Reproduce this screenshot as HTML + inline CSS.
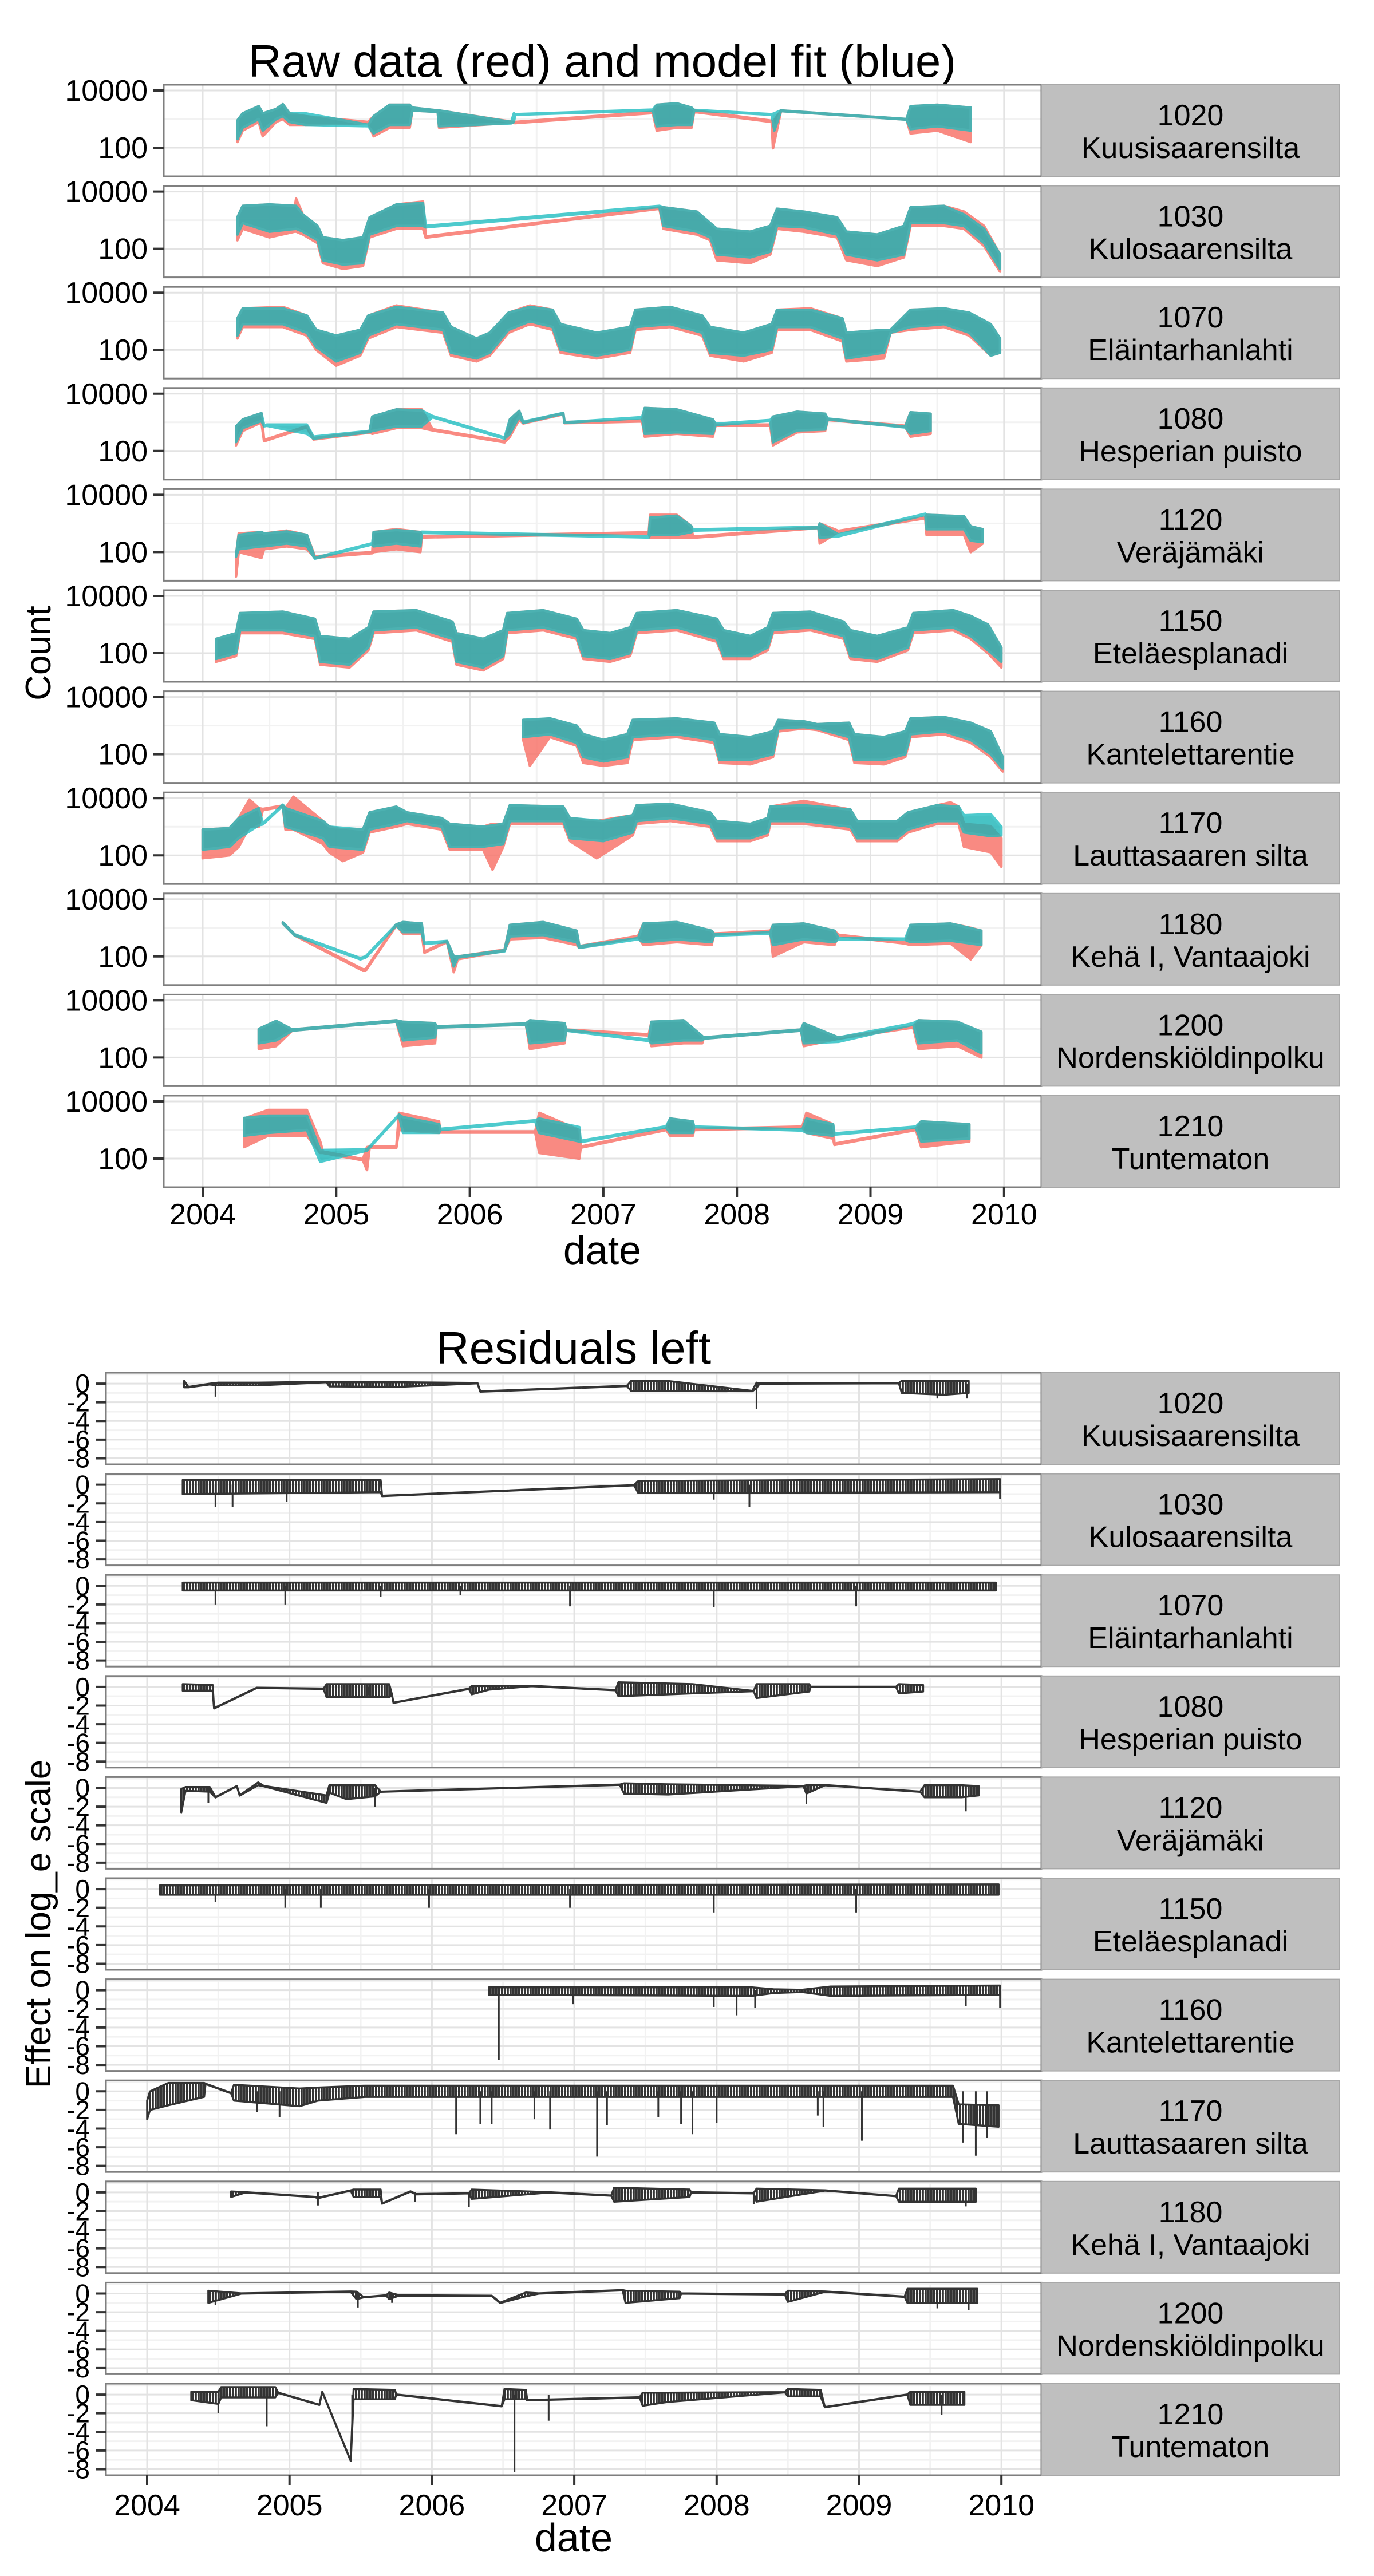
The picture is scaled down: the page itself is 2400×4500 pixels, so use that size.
<!DOCTYPE html>
<html><head><meta charset="utf-8"><title>Raw data and model fit; residuals</title>
<style>
html,body{margin:0;padding:0;background:#fff;}
svg{display:block;font-family:"Liberation Sans",Arial,sans-serif;}
</style></head>
<body>
<svg id="chart" xmlns="http://www.w3.org/2000/svg" width="2400" height="4500" viewBox="0 0 2400 4500">
<defs>
<pattern id="resHatch" patternUnits="userSpaceOnUse" width="5" height="10"><rect x="0" y="0" width="3.8" height="10" fill="#333333"/></pattern>
</defs>
<rect x="0" y="0" width="2400" height="4500" fill="#ffffff"/>
<text x="1052" y="134" font-size="80" text-anchor="middle" fill="#000">Raw data (red) and model fit (blue)</text>
<text x="1002" y="2382" font-size="80" text-anchor="middle" fill="#000">Residuals left</text>
<text transform="translate(88,1141) rotate(-90)" font-size="62" text-anchor="middle" fill="#000">Count</text>
<text transform="translate(88,3361) rotate(-90)" font-size="62" text-anchor="middle" fill="#000">Effect on log_e scale</text>
<text x="1052" y="2208" font-size="70" text-anchor="middle" fill="#000">date</text>
<text x="1002" y="4457" font-size="70" text-anchor="middle" fill="#000">date</text>
<g id="layer"></g>
</svg>
<script>
// ---------- categories / ticks ----------
const stationIds = ['1020','1030','1070','1080','1120','1150','1160','1170','1180','1200','1210'];
const stationNames = ['Kuusisaarensilta','Kulosaarensilta','Eläintarhanlahti','Hesperian puisto','Veräjämäki','Eteläesplanadi','Kantelettarentie','Lauttasaaren silta','Kehä I, Vantaajoki','Nordenskiöldinpolku','Tuntematon'];
const yearTicks = [2004,2005,2006,2007,2008,2009,2010];
const countTickLog = [2,4];
const countTickLabels = ['100','10000'];
const residTicks = [0,-2,-4,-6,-8];
const residTickLabels = ['0','-2','-4','-6','-8'];

// ---------- top chart data: [year, log10 low, log10 high] ----------
const fit1020 = [[2004.26,2.3,2.95],[2004.30,2.7,3.2],[2004.42,3.0,3.45],[2004.45,2.6,3.2],[2004.55,3.0,3.35],[2004.60,3.1,3.52],[2004.65,2.9,3.2],[2004.77,2.8,3.2],[2005.24,2.75,2.8],[2005.28,2.5,3.1],[2005.40,2.8,3.5],[2005.55,2.8,3.5],[2005.57,3.3,3.4],[2005.76,3.25,3.3],[2005.77,2.75,3.3],[2006.31,2.85,2.9],[2006.33,2.9,3.2],[2006.34,3.15,3.17],[2007.37,3.3,3.33],[2007.40,2.75,3.5],[2007.55,2.8,3.55],[2007.66,2.8,3.4],[2007.68,3.3,3.32],[2008.26,3.15,3.17],[2008.28,2.6,3.2],[2008.33,3.28,3.3],[2009.27,2.98,3.0],[2009.30,2.65,3.45],[2009.50,2.75,3.5],[2009.75,2.6,3.4]];
const raw1020 = [[2004.26,2.2,2.95],[2004.30,2.6,3.2],[2004.42,2.9,3.45],[2004.45,2.4,3.2],[2004.55,2.9,3.35],[2004.60,3.0,3.52],[2004.65,2.8,3.2],[2004.77,2.8,3.1],[2005.24,2.86,2.9],[2005.28,2.4,3.1],[2005.40,2.7,3.5],[2005.55,2.7,3.5],[2005.57,3.3,3.4],[2005.76,3.25,3.3],[2005.77,2.7,3.3],[2006.31,2.87,2.91],[2006.34,2.86,2.9],[2007.37,3.21,3.25],[2007.40,2.6,3.5],[2007.55,2.7,3.55],[2007.66,2.7,3.4],[2007.68,3.25,3.3],[2008.26,2.9,2.94],[2008.27,1.98,2.9],[2008.33,3.28,3.3],[2009.27,2.98,3.0],[2009.30,2.5,3.45],[2009.50,2.6,3.5],[2009.75,2.2,3.4]];
const fit1030 = [[2004.26,2.5,3.1],[2004.30,2.9,3.5],[2004.50,2.6,3.55],[2004.70,2.7,3.5],[2004.75,2.6,3.2],[2004.86,2.3,2.8],[2004.90,1.6,2.4],[2005.05,1.45,2.3],[2005.20,1.5,2.4],[2005.25,2.5,3.1],[2005.45,2.8,3.55],[2005.65,2.8,3.6],[2005.67,2.75,2.8],[2007.42,3.46,3.5],[2007.45,2.8,3.45],[2007.70,2.6,3.3],[2007.80,2.4,2.9],[2007.85,1.8,2.7],[2008.10,1.7,2.6],[2008.25,1.9,2.8],[2008.30,2.8,3.4],[2008.50,2.75,3.3],[2008.75,2.5,3.1],[2008.82,1.8,2.6],[2009.05,1.6,2.5],[2009.25,1.8,2.8],[2009.30,2.9,3.45],[2009.55,2.9,3.5],[2009.70,2.8,3.2],[2009.85,2.2,2.7],[2009.97,1.3,1.8]];
const raw1030 = [[2004.26,2.3,3.1],[2004.30,2.7,3.5],[2004.50,2.4,3.55],[2004.69,2.6,3.5],[2004.70,2.6,3.75],[2004.75,2.5,3.2],[2004.86,2.2,2.8],[2004.90,1.5,2.4],[2005.05,1.3,2.3],[2005.20,1.4,2.4],[2005.25,2.4,3.1],[2005.45,2.7,3.55],[2005.65,2.7,3.65],[2005.67,2.39,2.43],[2007.42,3.4,3.44],[2007.45,2.7,3.45],[2007.70,2.5,3.3],[2007.80,2.3,2.9],[2007.85,1.6,2.7],[2008.10,1.5,2.6],[2008.25,1.8,2.8],[2008.30,2.7,3.4],[2008.50,2.6,3.3],[2008.75,2.4,3.1],[2008.82,1.6,2.6],[2009.05,1.4,2.5],[2009.25,1.7,2.8],[2009.30,2.8,3.45],[2009.55,2.8,3.5],[2009.70,2.7,3.3],[2009.85,2.1,2.8],[2009.97,1.2,1.8]];
const fit1070 = [[2004.26,2.5,3.1],[2004.30,2.9,3.45],[2004.60,2.9,3.45],[2004.78,2.6,3.2],[2004.85,2.1,2.7],[2005.00,1.6,2.5],[2005.18,1.9,2.7],[2005.24,2.5,3.2],[2005.45,2.9,3.5],[2005.80,2.7,3.3],[2005.86,1.9,2.8],[2006.05,1.7,2.4],[2006.15,1.9,2.6],[2006.29,2.7,3.3],[2006.45,3.0,3.5],[2006.62,2.8,3.4],[2006.68,2.0,2.9],[2006.95,1.8,2.6],[2007.20,2.0,2.8],[2007.24,2.8,3.4],[2007.50,2.9,3.5],[2007.74,2.6,3.2],[2007.80,1.9,2.8],[2008.05,1.8,2.6],[2008.26,2.0,2.9],[2008.30,2.8,3.4],[2008.55,2.8,3.4],[2008.79,2.4,3.1],[2008.82,1.7,2.6],[2009.10,1.9,2.7],[2009.15,2.6,2.7],[2009.30,2.8,3.4],[2009.55,2.9,3.45],[2009.74,2.6,3.3],[2009.90,1.8,2.9],[2009.97,1.9,2.4]];
const raw1070 = [[2004.26,2.4,3.1],[2004.30,2.8,3.45],[2004.60,2.8,3.5],[2004.78,2.5,3.2],[2004.85,2.0,2.7],[2005.00,1.45,2.5],[2005.18,1.8,2.7],[2005.24,2.4,3.2],[2005.45,2.8,3.55],[2005.80,2.6,3.3],[2005.86,1.8,2.8],[2006.05,1.6,2.4],[2006.15,1.8,2.6],[2006.29,2.6,3.3],[2006.45,2.9,3.55],[2006.62,2.7,3.4],[2006.68,1.9,2.9],[2006.95,1.7,2.6],[2007.20,1.9,2.8],[2007.24,2.7,3.4],[2007.50,2.8,3.5],[2007.74,2.5,3.2],[2007.80,1.8,2.8],[2008.05,1.6,2.6],[2008.26,1.9,2.9],[2008.30,2.7,3.4],[2008.55,2.7,3.45],[2008.79,2.3,3.1],[2008.82,1.6,2.6],[2009.10,1.7,2.7],[2009.15,2.6,2.7],[2009.30,2.7,3.4],[2009.55,2.8,3.45],[2009.74,2.5,3.3],[2009.90,1.8,2.9],[2009.97,1.9,2.4]];
const fit1080 = [[2004.25,2.31,2.86],[2004.30,2.8,3.1],[2004.44,3.05,3.32],[2004.46,2.86,2.9],[2004.48,2.88,2.92],[2004.78,2.6,2.92],[2004.83,2.43,2.5],[2005.25,2.66,2.7],[2005.27,2.7,3.2],[2005.45,2.86,3.45],[2005.64,2.86,3.41],[2005.72,3.18,3.22],[2006.26,2.43,2.47],[2006.30,2.6,3.1],[2006.37,3.2,3.4],[2006.40,2.98,3.02],[2006.70,3.3,3.33],[2006.71,2.98,3.0],[2007.29,3.15,3.18],[2007.31,2.6,3.5],[2007.55,2.65,3.45],[2007.82,2.6,3.1],[2007.84,2.9,2.95],[2008.25,3.05,3.08],[2008.27,2.3,3.2],[2008.45,2.72,3.37],[2008.66,2.75,3.3],[2008.68,3.1,3.13],[2009.26,2.82,2.85],[2009.30,2.6,3.35],[2009.45,2.7,3.3]];
const raw1080 = [[2004.25,2.2,2.86],[2004.30,2.7,3.1],[2004.44,3.0,3.32],[2004.46,2.34,2.38],[2004.78,2.83,2.87],[2004.83,2.4,2.45],[2005.25,2.64,2.68],[2005.27,2.6,3.2],[2005.45,2.8,3.45],[2005.64,2.8,3.45],[2005.72,2.72,2.76],[2006.26,2.3,2.34],[2006.30,2.5,3.1],[2006.37,3.1,3.4],[2006.40,2.96,3.0],[2006.70,3.28,3.32],[2006.71,2.97,3.01],[2007.29,3.03,3.07],[2007.31,2.5,3.5],[2007.55,2.6,3.45],[2007.82,2.5,3.1],[2007.84,2.88,2.92],[2008.25,2.88,2.92],[2008.27,2.2,3.2],[2008.45,2.65,3.37],[2008.66,2.7,3.3],[2008.68,3.08,3.12],[2009.26,2.84,2.88],[2009.30,2.5,3.35],[2009.45,2.6,3.3]];
const fit1120 = [[2004.25,1.84,1.9],[2004.27,2.1,2.6],[2004.44,2.2,2.7],[2004.46,2.2,2.65],[2004.63,2.3,2.72],[2004.78,2.2,2.6],[2004.84,1.77,1.8],[2005.27,2.27,2.31],[2005.28,2.2,2.7],[2005.45,2.3,2.77],[2005.63,2.2,2.7],[2005.64,2.67,2.71],[2007.34,2.51,2.55],[2007.35,2.6,3.2],[2007.55,2.6,3.27],[2007.66,2.7,2.9],[2007.67,2.75,2.79],[2008.61,2.84,2.88],[2008.62,2.5,3.0],[2008.76,2.55,2.62],[2009.41,3.3,3.34],[2009.42,2.8,3.3],[2009.70,2.8,3.25],[2009.75,2.4,2.9],[2009.84,2.35,2.8]];
const raw1120 = [[2004.25,1.15,1.9],[2004.27,2.0,2.65],[2004.44,1.8,2.7],[2004.46,2.1,2.65],[2004.63,2.2,2.75],[2004.78,2.1,2.6],[2004.84,1.8,1.85],[2005.27,1.96,2.0],[2005.28,2.0,2.7],[2005.45,2.1,2.8],[2005.63,2.0,2.7],[2005.64,2.51,2.55],[2007.34,2.65,2.69],[2007.35,2.5,3.3],[2007.55,2.5,3.3],[2007.66,2.5,2.9],[2007.67,2.5,2.54],[2008.61,2.84,2.88],[2008.62,2.3,3.0],[2008.76,2.7,2.74],[2009.41,3.18,3.22],[2009.42,2.6,3.3],[2009.70,2.6,3.25],[2009.75,2.0,2.9],[2009.84,2.3,2.8]];
const fit1150 = [[2004.10,1.8,2.5],[2004.25,2.0,2.7],[2004.28,2.8,3.4],[2004.60,2.8,3.45],[2004.84,2.6,3.2],[2004.88,1.7,2.6],[2005.10,1.6,2.5],[2005.24,2.2,2.9],[2005.28,2.8,3.45],[2005.60,2.9,3.5],[2005.87,2.5,3.1],[2005.90,1.7,2.7],[2006.10,1.5,2.5],[2006.25,1.9,2.8],[2006.28,2.8,3.4],[2006.55,2.9,3.5],[2006.80,2.6,3.2],[2006.85,1.9,2.8],[2007.05,1.8,2.7],[2007.20,2.0,2.9],[2007.25,2.8,3.4],[2007.55,2.9,3.5],[2007.85,2.5,3.2],[2007.90,1.9,2.8],[2008.10,1.9,2.6],[2008.23,2.2,2.9],[2008.27,2.8,3.4],[2008.55,2.9,3.45],[2008.80,2.6,3.1],[2008.85,1.9,2.8],[2009.05,1.8,2.6],[2009.28,2.2,2.9],[2009.32,2.8,3.4],[2009.62,2.9,3.5],[2009.75,2.6,3.3],[2009.88,2.1,3.0],[2009.98,1.7,2.2]];
const raw1150 = [[2004.10,1.7,2.5],[2004.25,1.9,2.7],[2004.28,2.7,3.4],[2004.60,2.7,3.45],[2004.84,2.5,3.2],[2004.88,1.6,2.6],[2005.10,1.5,2.5],[2005.24,2.1,2.9],[2005.28,2.7,3.45],[2005.60,2.8,3.5],[2005.87,2.4,3.1],[2005.90,1.6,2.7],[2006.10,1.4,2.5],[2006.25,1.8,2.8],[2006.28,2.7,3.4],[2006.55,2.8,3.5],[2006.80,2.5,3.2],[2006.85,1.8,2.8],[2007.05,1.7,2.7],[2007.20,1.9,2.9],[2007.25,2.7,3.4],[2007.55,2.8,3.5],[2007.85,2.4,3.2],[2007.90,1.8,2.8],[2008.10,1.8,2.6],[2008.23,2.1,2.9],[2008.27,2.7,3.4],[2008.55,2.8,3.45],[2008.80,2.5,3.1],[2008.85,1.8,2.8],[2009.05,1.7,2.6],[2009.28,2.1,2.9],[2009.32,2.7,3.4],[2009.62,2.8,3.5],[2009.75,2.5,3.3],[2009.88,2.0,3.0],[2009.98,1.5,2.2]];
const fit1160 = [[2006.40,2.6,3.2],[2006.60,2.7,3.25],[2006.80,2.4,3.0],[2006.85,1.9,2.7],[2007.00,1.75,2.5],[2007.18,1.9,2.7],[2007.22,2.6,3.2],[2007.55,2.7,3.25],[2007.83,2.5,3.1],[2007.87,1.8,2.7],[2008.10,1.8,2.6],[2008.27,2.0,2.8],[2008.31,2.9,3.2],[2008.50,2.95,3.15],[2008.60,2.9,3.05],[2008.84,2.6,3.1],[2008.88,1.8,2.7],[2009.10,1.8,2.6],[2009.26,2.0,2.8],[2009.30,2.7,3.25],[2009.55,2.8,3.3],[2009.75,2.5,3.1],[2009.90,2.0,2.8],[2009.99,1.5,1.9]];
const raw1160 = [[2006.40,2.5,3.2],[2006.45,1.6,3.2],[2006.60,2.6,3.25],[2006.80,2.3,3.0],[2006.85,1.7,2.7],[2007.00,1.6,2.5],[2007.18,1.7,2.7],[2007.22,2.5,3.2],[2007.55,2.6,3.25],[2007.83,2.4,3.1],[2007.87,1.7,2.7],[2008.10,1.65,2.6],[2008.27,1.9,2.8],[2008.31,2.8,3.2],[2008.50,2.9,3.15],[2008.60,2.85,3.05],[2008.84,2.5,3.1],[2008.88,1.7,2.7],[2009.10,1.65,2.6],[2009.26,1.9,2.8],[2009.30,2.6,3.25],[2009.55,2.7,3.3],[2009.75,2.4,3.1],[2009.90,1.9,2.8],[2009.99,1.4,1.9]];
const fit1170 = [[2004.00,2.2,2.9],[2004.20,2.3,2.95],[2004.27,2.6,3.3],[2004.42,3.05,3.65],[2004.45,3.08,3.12],[2004.60,3.73,3.77],[2004.62,3.0,3.65],[2004.90,2.6,3.2],[2004.95,2.3,3.0],[2005.20,2.2,2.9],[2005.25,2.9,3.5],[2005.45,3.1,3.7],[2005.53,3.2,3.5],[2005.79,3.0,3.3],[2005.85,2.3,3.1],[2006.10,2.3,3.0],[2006.25,2.4,3.1],[2006.30,3.2,3.75],[2006.70,3.2,3.7],[2006.75,2.6,3.3],[2007.00,2.5,3.2],[2007.22,2.8,3.4],[2007.25,3.2,3.75],[2007.50,3.3,3.8],[2007.80,3.1,3.5],[2007.85,2.6,3.2],[2008.10,2.6,3.1],[2008.23,2.8,3.3],[2008.25,3.2,3.7],[2008.50,3.2,3.75],[2008.85,3.0,3.6],[2008.90,2.6,3.2],[2009.20,2.6,3.2],[2009.28,2.9,3.5],[2009.50,3.2,3.75],[2009.66,3.2,3.7],[2009.70,2.8,3.4],[2009.90,2.67,3.44],[2009.98,2.7,3.0]];
const raw1170 = [[2004.00,1.9,2.9],[2004.20,2.0,2.95],[2004.27,2.3,3.3],[2004.35,3.0,3.95],[2004.42,3.0,3.65],[2004.45,3.58,3.62],[2004.60,3.7,3.74],[2004.62,2.9,3.65],[2004.68,2.9,4.05],[2004.90,2.4,3.2],[2004.95,2.1,3.0],[2005.05,1.8,2.9],[2005.20,2.1,2.9],[2005.25,2.8,3.5],[2005.45,3.0,3.7],[2005.53,3.1,3.5],[2005.79,2.9,3.3],[2005.85,2.2,3.1],[2006.10,2.2,3.0],[2006.17,1.5,3.1],[2006.25,2.3,3.1],[2006.30,3.1,3.75],[2006.70,3.1,3.7],[2006.75,2.5,3.3],[2006.95,1.9,3.2],[2007.22,2.7,3.4],[2007.25,3.1,3.75],[2007.50,3.2,3.8],[2007.80,3.0,3.5],[2007.85,2.5,3.2],[2008.10,2.5,3.1],[2008.23,2.7,3.3],[2008.25,3.1,3.7],[2008.50,3.1,3.9],[2008.85,2.9,3.6],[2008.90,2.5,3.2],[2009.20,2.5,3.2],[2009.28,2.8,3.5],[2009.50,3.1,3.75],[2009.60,3.1,3.85],[2009.66,3.1,3.7],[2009.70,2.3,3.1],[2009.90,2.11,3.02],[2009.98,1.6,2.6]];
const fit1180 = [[2004.60,3.15,3.19],[2004.69,2.73,2.77],[2005.18,1.9,1.94],[2005.22,1.96,2.0],[2005.45,3.08,3.12],[2005.50,2.85,3.2],[2005.64,2.85,3.15],[2005.66,2.44,2.48],[2005.83,2.5,2.54],[2005.88,1.65,2.0],[2005.91,1.96,2.0],[2006.26,2.18,2.22],[2006.30,2.7,3.1],[2006.55,2.75,3.2],[2006.80,2.5,2.9],[2006.82,2.3,2.36],[2007.26,2.6,2.64],[2007.30,2.5,3.15],[2007.55,2.6,3.2],[2007.81,2.5,2.9],[2007.83,2.73,2.77],[2008.25,2.8,2.84],[2008.27,2.4,3.1],[2008.50,2.6,3.15],[2008.73,2.5,2.9],[2008.76,2.6,2.64],[2009.26,2.58,2.62],[2009.30,2.5,3.1],[2009.60,2.55,3.15],[2009.83,2.4,2.9]];
const raw1180 = [[2004.60,3.15,3.19],[2004.69,2.73,2.77],[2005.20,1.5,1.55],[2005.22,1.5,1.55],[2005.45,3.08,3.12],[2005.50,2.8,3.2],[2005.64,2.8,3.15],[2005.66,2.13,2.17],[2005.83,2.5,2.54],[2005.88,1.45,2.0],[2005.91,1.9,2.0],[2006.26,2.2,2.24],[2006.30,2.6,3.1],[2006.55,2.65,3.2],[2006.80,2.4,2.9],[2006.82,2.3,2.36],[2007.26,2.68,2.72],[2007.30,2.4,3.15],[2007.55,2.5,3.2],[2007.81,2.4,2.9],[2007.83,2.76,2.8],[2008.25,2.86,2.9],[2008.27,2.0,3.1],[2008.50,2.5,3.15],[2008.73,2.4,2.9],[2008.76,2.72,2.76],[2009.26,2.45,2.49],[2009.30,2.4,3.1],[2009.60,2.45,3.15],[2009.75,1.9,3.0],[2009.83,2.4,2.9]];
const fit1200 = [[2004.42,2.5,3.0],[2004.55,2.6,3.28],[2004.67,2.94,2.98],[2005.45,3.26,3.3],[2005.50,2.6,3.25],[2005.74,2.7,3.2],[2005.75,3.05,3.09],[2006.42,3.15,3.19],[2006.45,2.5,3.3],[2006.71,2.6,3.2],[2006.72,2.94,2.98],[2007.34,2.58,2.62],[2007.36,2.5,3.25],[2007.60,2.6,3.3],[2007.74,2.6,2.75],[2007.75,2.66,2.7],[2008.48,2.94,2.98],[2008.50,2.5,3.2],[2008.76,2.55,2.7],[2009.32,3.15,3.2],[2009.36,2.5,3.3],[2009.65,2.6,3.25],[2009.83,2.15,2.9]];
const raw1200 = [[2004.42,2.3,3.0],[2004.55,2.4,3.28],[2004.67,2.94,2.98],[2005.45,3.26,3.3],[2005.50,2.4,3.25],[2005.74,2.5,3.2],[2005.75,3.05,3.09],[2006.42,3.15,3.19],[2006.45,2.3,3.3],[2006.71,2.5,3.2],[2006.72,2.94,2.98],[2007.34,2.77,2.81],[2007.36,2.4,3.25],[2007.60,2.5,3.3],[2007.74,2.5,2.75],[2007.75,2.66,2.7],[2008.48,2.94,2.98],[2008.50,2.4,3.2],[2008.76,2.66,2.7],[2009.32,3.05,3.09],[2009.36,2.3,3.3],[2009.65,2.4,3.25],[2009.83,2.0,2.9]];
const fit1210 = [[2004.31,2.8,3.42],[2004.49,2.9,3.5],[2004.78,3.0,3.5],[2004.88,1.89,2.3],[2005.23,2.28,2.32],[2005.47,3.5,3.54],[2005.50,2.9,3.45],[2005.77,2.9,3.2],[2005.78,3.0,3.04],[2006.49,3.3,3.34],[2006.52,2.9,3.4],[2006.82,2.6,3.1],[2006.83,2.58,2.62],[2007.47,3.09,3.13],[2007.50,2.9,3.4],[2007.67,2.9,3.3],[2007.68,3.1,3.12],[2008.49,2.98,3.02],[2008.52,2.9,3.4],[2008.72,2.8,3.2],[2008.73,2.84,2.88],[2009.34,3.08,3.12],[2009.38,2.6,3.3],[2009.74,2.7,3.2]];
const raw1210 = [[2004.31,2.4,3.4],[2004.49,2.8,3.7],[2004.78,2.8,3.7],[2004.88,2.2,2.6],[2004.90,2.2,2.25],[2005.20,1.94,1.98],[2005.23,1.6,2.4],[2005.25,2.38,2.42],[2005.45,2.38,2.42],[2005.47,3.0,3.6],[2005.77,2.9,3.3],[2005.78,2.91,2.95],[2006.49,2.91,2.95],[2006.52,2.2,3.6],[2006.82,2.0,3.0],[2006.83,2.38,2.42],[2007.47,3.0,3.04],[2007.50,2.8,3.4],[2007.67,2.8,3.3],[2007.68,3.0,3.04],[2008.49,3.08,3.12],[2008.52,2.9,3.6],[2008.72,2.7,3.2],[2008.73,2.48,2.52],[2009.34,3.0,3.04],[2009.38,2.4,3.3],[2009.74,2.6,3.2]];

// ---------- residual data: [year, low, high] and spikes [year, value] ----------
const res1020 = [[2004.26,-0.4,0.3],[2004.29,-0.4,-0.35],[2004.44,-0.1,0],[2004.50,-0.2,0.1],[2004.78,-0.2,0.1],[2005.26,0.15,0.2],[2005.28,-0.3,0.15],[2005.77,-0.35,0.15],[2006.32,0.03,0.07],[2006.34,-0.87,-0.83],[2007.37,-0.27,-0.23],[2007.40,-0.8,0.3],[2007.65,-0.8,0.3],[2008.25,-0.82,-0.78],[2008.28,-0.5,0.1],[2008.30,-0.02,0.02],[2009.28,0.03,0.07],[2009.30,-1.0,0.3],[2009.60,-1.2,0.3],[2009.77,-1.0,0.3]];
const spk1020 = [[2004.48,-1.4],[2008.28,-2.7],[2009.55,-1.6],[2009.76,-1.6]];
const res1030 = [[2004.25,-1.0,0.5],[2005.64,-0.8,0.5],[2005.65,-1.22,-1.18],[2007.42,-0.07,-0.03],[2007.45,-0.9,0.4],[2009.99,-0.8,0.6]];
const spk1030 = [[2004.48,-2.4],[2004.60,-2.4],[2004.98,-1.8],[2007.98,-1.6],[2008.23,-2.4],[2009.99,-1.5]];
const res1070 = [[2004.25,-0.5,0.35],[2009.96,-0.5,0.35]];
const spk1070 = [[2004.48,-2.0],[2004.97,-2.0],[2005.64,-1.2],[2006.20,-1.0],[2006.97,-2.2],[2007.98,-2.3],[2008.98,-2.2]];
const res1080 = [[2004.25,-0.4,0.3],[2004.46,-0.4,0.2],[2004.47,-2.32,-2.28],[2004.77,-0.12,-0.08],[2005.24,-0.22,-0.18],[2005.26,-1.1,0.3],[2005.70,-1.1,0.3],[2005.72,-0.9,-0.85],[2005.73,-1.72,-1.68],[2006.26,-0.22,-0.18],[2006.28,-0.8,0.1],[2006.40,-0.3,0.1],[2006.70,0.08,0.12],[2007.29,-0.37,-0.33],[2007.31,-1.0,0.5],[2007.83,-0.7,0.3],[2008.26,-0.47,-0.43],[2008.28,-1.2,0.3],[2008.65,-0.5,0.3],[2008.66,-0.02,0.02],[2009.26,-0.02,0.02],[2009.28,-0.7,0.3],[2009.45,-0.5,0.2]];
const spk1080 = [[2005.55,-0.9],[2007.40,-1.0]];
const res1120 = [[2004.24,-2.6,-0.1],[2004.27,-0.3,0.1],[2004.44,-0.4,0.1],[2004.48,-1.02,-0.98],[2004.63,0.18,0.22],[2004.65,-0.82,-0.78],[2004.78,0.3,0.6],[2004.82,0.18,0.22],[2005.26,-1.6,-0.8],[2005.28,-0.5,0.3],[2005.40,-1.2,0.3],[2005.60,-0.9,0.3],[2005.64,-0.42,-0.38],[2007.32,0.33,0.37],[2007.35,-0.6,0.5],[2007.66,-0.7,0.4],[2008.61,0.18,0.22],[2008.63,-0.6,0.3],[2008.76,0.28,0.32],[2009.43,-0.42,-0.38],[2009.46,-1.0,0.3],[2009.72,-1.0,0.3],[2009.84,-0.8,0.2]];
const spk1120 = [[2004.43,-1.6],[2005.60,-2.0],[2008.63,-1.7],[2009.75,-2.5]];
const res1150 = [[2004.09,-0.6,0.4],[2009.98,-0.6,0.5]];
const spk1150 = [[2004.48,-1.4],[2004.97,-2.0],[2005.22,-2.0],[2005.98,-2.0],[2006.97,-2.0],[2007.98,-2.5],[2008.98,-2.5]];
const res1160 = [[2006.40,-0.5,0.3],[2008.25,-0.6,0.3],[2008.40,-0.3,0.1],[2008.60,-0.2,0.05],[2008.80,-0.6,0.4],[2009.99,-0.5,0.5]];
const spk1160 = [[2006.47,-7.5],[2006.99,-1.5],[2007.98,-1.8],[2008.14,-2.7],[2008.27,-1.9],[2009.75,-1.7],[2009.99,-1.9]];
const res1170 = [[2004.00,-3.0,-1.0],[2004.02,-2.0,0.0],[2004.15,-1.5,0.9],[2004.40,-0.6,0.9],[2004.41,0.78,0.82],[2004.59,-0.22,-0.18],[2004.61,-1.0,0.7],[2005.07,-1.6,0.3],[2005.20,-1.0,0.4],[2005.53,-0.6,0.6],[2009.66,-0.6,0.6],[2009.70,-3.5,-1.4],[2009.98,-3.8,-1.5]];
const spk1170 = [[2004.77,-2.2],[2004.93,-2.8],[2006.17,-4.6],[2006.34,-3.5],[2006.42,-3.5],[2006.72,-3.0],[2006.83,-4.1],[2007.16,-7.0],[2007.23,-3.6],[2007.59,-2.8],[2007.75,-3.5],[2007.83,-4.6],[2008.00,-3.4],[2008.71,-2.6],[2008.75,-3.8],[2009.02,-5.3],[2009.73,-5.5],[2009.82,-6.9],[2009.90,-5.0]];
const res1180 = [[2004.59,-0.5,0.1],[2004.69,-0.02,0.02],[2005.18,-0.52,-0.48],[2005.20,-0.62,-0.58],[2005.43,0.18,0.22],[2005.45,-0.5,0.3],[2005.64,-0.5,0.3],[2005.65,-1.22,-1.18],[2005.85,0.08,0.12],[2005.89,-0.22,-0.18],[2006.26,-0.12,-0.08],[2006.28,-0.7,0.3],[2006.82,-0.02,0.02],[2007.26,-0.37,-0.33],[2007.28,-1.0,0.5],[2007.81,-0.5,0.3],[2007.82,-0.02,0.02],[2008.26,-0.12,-0.08],[2008.28,-1.0,0.4],[2008.76,0.18,0.22],[2009.26,-0.42,-0.38],[2009.28,-1.0,0.4],[2009.82,-1.0,0.4]];
const spk1180 = [[2005.20,-1.4],[2005.88,-1.0],[2006.26,-1.6],[2008.26,-1.3],[2009.75,-1.5]];
const res1200 = [[2004.43,-1.0,0.3],[2004.66,-0.02,0.02],[2005.43,0.18,0.22],[2005.47,-0.6,0.2],[2005.52,-0.42,-0.38],[2005.68,-0.22,-0.18],[2005.70,-0.6,0.1],[2005.77,-0.22,-0.18],[2006.42,-0.27,-0.23],[2006.48,-1.02,-0.98],[2006.66,-0.3,0.1],[2006.75,-0.02,0.02],[2007.34,0.33,0.37],[2007.36,-1.0,0.3],[2007.74,-0.5,0.2],[2007.75,-0.02,0.02],[2008.48,-0.12,-0.08],[2008.50,-0.9,0.3],[2008.76,0.18,0.22],[2009.32,-0.37,-0.33],[2009.34,-1.0,0.5],[2009.83,-1.0,0.5]];
const spk1200 = [[2004.48,-1.2],[2005.48,-1.5],[2005.72,-1.0],[2009.55,-1.6],[2009.77,-1.8]];
const res1210 = [[2004.31,-0.6,0.3],[2004.50,-1.0,0.3],[2004.52,-0.3,0.8],[2004.90,-0.3,0.8],[2004.92,0.18,0.22],[2005.21,-1.12,-1.08],[2005.23,0.28,0.32],[2005.43,-7.12,-7.08],[2005.45,-0.5,0.6],[2005.74,-0.5,0.5],[2005.75,-0.02,0.02],[2006.49,-1.27,-1.23],[2006.51,-0.5,0.6],[2006.66,-0.5,0.5],[2006.67,-0.62,-0.58],[2007.46,-0.32,-0.28],[2007.48,-1.2,0.2],[2007.65,-0.8,0.2],[2008.48,0.23,0.27],[2008.50,-0.2,0.6],[2008.73,-0.2,0.5],[2008.76,-1.37,-1.33],[2009.34,-0.02,0.02],[2009.36,-1.1,0.3],[2009.74,-1.1,0.3]];
const spk1210 = [[2004.50,-2.0],[2004.84,-3.4],[2005.44,-3.2],[2006.58,-8.3],[2006.82,-2.8],[2009.58,-2.2]];

const rawSeries = [raw1020,raw1030,raw1070,raw1080,raw1120,raw1150,raw1160,raw1170,raw1180,raw1200,raw1210];
const fitSeries = [fit1020,fit1030,fit1070,fit1080,fit1120,fit1150,fit1160,fit1170,fit1180,fit1200,fit1210];
const resSeries = [res1020,res1030,res1070,res1080,res1120,res1150,res1160,res1170,res1180,res1200,res1210];
const spkSeries = [spk1020,spk1030,spk1070,spk1080,spk1120,spk1150,spk1160,spk1170,spk1180,spk1200,spk1210];

// ---------- layout & axis functions ----------
const NS = 'http://www.w3.org/2000/svg';
const layer = document.getElementById('layer');
const PITCH = 176.6, PH = 160;
const TOP0 = 148, RES0 = 2398;
const TX0 = 286, TX1 = 1819, RX0 = 185, RX1 = 1819, SX1 = 2340;
function xTop(t){ return 354 + (t - 2004) * 233.3; }
function yTop(i, v){ return TOP0 + i * PITCH + (4.2 - v) / 3.2 * PH; }
function xRes(t){ return 257 + (t - 2004) * 248.7; }
function yRes(i, v){ return RES0 + i * PITCH + (1.17 - v) * 16.3; }

function mk(tag, attrs, parent){
  const e = document.createElementNS(NS, tag);
  for (const k in attrs) e.setAttribute(k, attrs[k]);
  parent.appendChild(e);
  return e;
}
function bandPath(arr, fx, fy){
  let d = '';
  arr.forEach((p, j) => { d += (j ? 'L' : 'M') + fx(p[0]).toFixed(1) + ',' + fy(p[2]).toFixed(1); });
  for (let j = arr.length - 1; j >= 0; j--) { d += 'L' + fx(arr[j][0]).toFixed(1) + ',' + fy(arr[j][1]).toFixed(1); }
  return d + 'Z';
}

function drawPanelFrame(i, x0, top, isTop){
  const bg = mk('rect', {x: x0, y: top, width: TX1 - x0, height: PH, fill: '#ffffff'}, layer);
  
  
  const fx = isTop ? xTop : xRes;
  for (let k = 0; k < yearTicks.length - 1; k++) {
    const x = fx(yearTicks[k] + 0.5);
    const g = mk('line', {x1: x, x2: x, y1: top, y2: top + PH, stroke: '#f2f2f2', 'stroke-width': 3}, layer);
    
    
  }
  const minorVals = isTop ? [3, 1] : [1, -1, -3, -5, -7];
  minorVals.forEach(v => {
    const y = isTop ? yTop(i, v) : yRes(i, v);
    if (y > top && y < top + PH) {
      const g = mk('line', {x1: x0, x2: TX1, y1: y, y2: y, stroke: '#f2f2f2', 'stroke-width': 3}, layer);
      
      
    }
  });
  yearTicks.forEach(yr => {
    const x = fx(yr);
    const g = mk('line', {x1: x, x2: x, y1: top, y2: top + PH, stroke: '#e3e3e3', 'stroke-width': 3}, layer);
    
    
  });
  const majors = isTop ? countTickLog : residTicks;
  majors.forEach(v => {
    const y = isTop ? yTop(i, v) : yRes(i, v);
    const g = mk('line', {x1: x0, x2: TX1, y1: y, y2: y, stroke: '#e3e3e3', 'stroke-width': 3}, layer);
    
    
  });
}
function drawPanelBorderAndStrip(i, x0, top, isTop){
  const b = mk('rect', {x: x0, y: top, width: TX1 - x0, height: PH, fill: 'none', stroke: '#7f7f7f', 'stroke-width': 3}, layer);
  
  
  const s = mk('rect', {x: TX1, y: top, width: SX1 - TX1, height: PH, fill: '#bfbfbf', stroke: '#a8a8a8', 'stroke-width': 2}, layer);
  
  
  const t1 = mk('text', {x: (TX1 + SX1) / 2, y: top + 71, 'font-size': 52, 'text-anchor': 'middle', fill: '#000'}, layer);
  t1.textContent = stationIds[i];
  
  
  const t2 = mk('text', {x: (TX1 + SX1) / 2, y: top + 128, 'font-size': 52, 'text-anchor': 'middle', fill: '#000'}, layer);
  t2.textContent = stationNames[i];
  
  
  const vals = isTop ? countTickLog : residTicks;
  const labs = isTop ? countTickLabels : residTickLabels;
  vals.forEach((v, k) => {
    const y = isTop ? yTop(i, v) : yRes(i, v);
    const tk = mk('line', {x1: x0 - 18, x2: x0, y1: y, y2: y, stroke: '#333', 'stroke-width': 4}, layer);
    
    
    const lb = mk('text', {x: x0 - 28, y: y + (isTop ? 18 : 16), 'font-size': isTop ? 52 : 46, 'text-anchor': 'end', fill: '#000'}, layer);
    lb.textContent = labs[k];
    
    
  });
}

// ---------- top chart ----------
for (let i = 0; i < stationIds.length; i++) {
  const top = TOP0 + i * PITCH;
  drawPanelFrame(i, TX0, top, true);
  const clipId = 'ct' + i;
  const cp = mk('clipPath', {id: clipId}, layer);
  mk('rect', {x: TX0, y: top, width: TX1 - TX0, height: PH}, cp);
  const fy = v => yTop(i, v);
  const gR = mk('g', {'clip-path': 'url(#' + clipId + ')', opacity: 0.85}, layer);
  
  
  const pR = mk('path', {d: bandPath(rawSeries[i], xTop, fy), fill: '#F8766D', stroke: '#F8766D', 'stroke-width': 4.5, 'stroke-linejoin': 'round'}, gR);
  
  
  const gF = mk('g', {'clip-path': 'url(#' + clipId + ')', opacity: 0.78}, layer);
  
  
  const pF = mk('path', {d: bandPath(fitSeries[i], xTop, fy), fill: '#16b3b6', stroke: '#1cbcbf', 'stroke-width': 4.5, 'stroke-linejoin': 'round'}, gF);
  
  
  drawPanelBorderAndStrip(i, TX0, top, true);
}
{
  const bottom = TOP0 + 10 * PITCH + PH;
  yearTicks.forEach(yr => {
    const x = xTop(yr);
    const tk = mk('line', {x1: x, x2: x, y1: bottom, y2: bottom + 17, stroke: '#333', 'stroke-width': 4}, layer);
    
    
    const lb = mk('text', {x: x, y: bottom + 65, 'font-size': 52, 'text-anchor': 'middle', fill: '#000'}, layer);
    lb.textContent = String(yr);
    
    
  });
}

// ---------- residual chart ----------
for (let i = 0; i < stationIds.length; i++) {
  const top = RES0 + i * PITCH;
  drawPanelFrame(i, RX0, top, false);
  const clipId = 'cr' + i;
  const cp = mk('clipPath', {id: clipId}, layer);
  mk('rect', {x: RX0, y: top, width: RX1 - RX0, height: PH}, cp);
  const fy = v => yRes(i, v);
  const g = mk('g', {'clip-path': 'url(#' + clipId + ')'}, layer);
  
  
  const p = mk('path', {d: bandPath(resSeries[i], xRes, fy), fill: 'url(#resHatch)', stroke: '#333333', 'stroke-width': 3.5, 'stroke-linejoin': 'round'}, g);
  
  
  spkSeries[i].forEach(s => {
    const x = xRes(s[0]);
    const sp = mk('line', {x1: x, x2: x, y1: fy(0), y2: fy(s[1]), stroke: '#333333', 'stroke-width': 3}, g);
    
    
  });
  drawPanelBorderAndStrip(i, RX0, top, false);
}
{
  const bottom = RES0 + 10 * PITCH + PH;
  yearTicks.forEach(yr => {
    const x = xRes(yr);
    const tk = mk('line', {x1: x, x2: x, y1: bottom, y2: bottom + 17, stroke: '#333', 'stroke-width': 4}, layer);
    
    
    const lb = mk('text', {x: x, y: bottom + 70, 'font-size': 52, 'text-anchor': 'middle', fill: '#000'}, layer);
    lb.textContent = String(yr);
    
    
  });
}
</script>
</body></html>
